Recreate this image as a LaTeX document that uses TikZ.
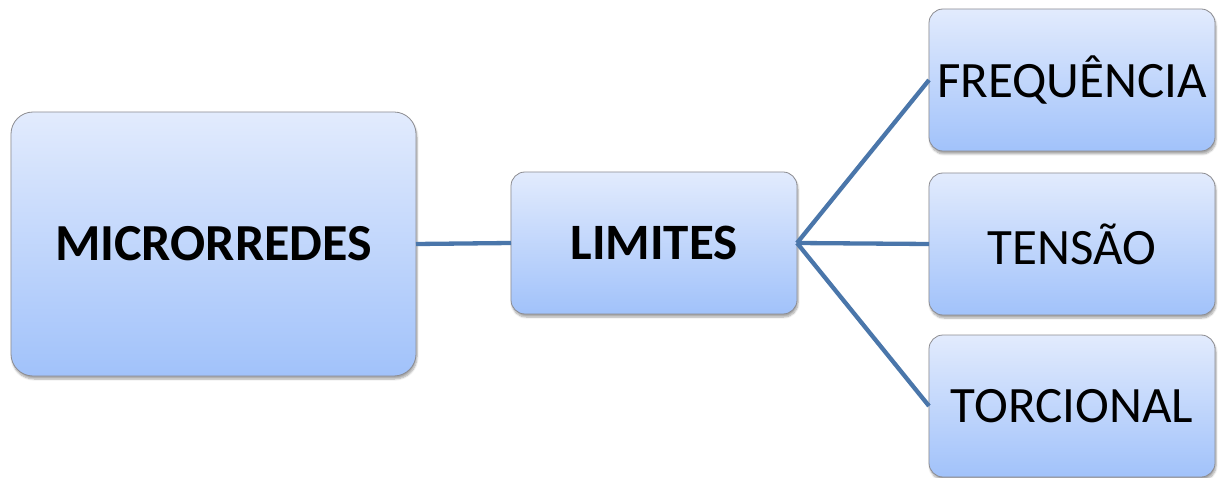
\documentclass[tikz,border=0pt]{standalone}
\usepackage{fontspec}
\setmainfont{Carlito}
\usetikzlibrary{shadows.blur}
\definecolor{topc}{RGB}{226,235,253}
\definecolor{botc}{RGB}{161,194,250}
\definecolor{linec}{RGB}{74,118,170}
\definecolor{bordc}{RGB}{140,140,145}
\tikzset{
  box/.style={draw=bordc, line width=0.8pt, rounded corners=#1, top color=topc, bottom color=botc,
    blur shadow={shadow xshift=1pt, shadow yshift=-3pt, shadow blur steps=6, shadow opacity=35},
    inner sep=0pt, outer sep=0pt, align=center},
  conn/.style={draw=linec, line width=4.3pt}
}
\begin{document}
\begin{tikzpicture}[x=1pt,y=1pt]
\useasboundingbox (0,0) rectangle (1218,-478);
\node[box=22pt, minimum width=405pt, minimum height=264pt, font=\fontsize{52}{60}\selectfont\bfseries] (micro) at (213.5,-244) {MICRORREDES};
\node[box=14pt, minimum width=286pt, minimum height=142pt, font=\fontsize{51}{60}\selectfont\bfseries] (lim) at (654,-243) {LIMITES};
\node[box=14pt, minimum width=286pt, minimum height=142pt, font=\fontsize{51}{60}\selectfont] (freq) at (1072,-80) {FREQUÊNCIA};
\node[box=14pt, minimum width=286pt, minimum height=142pt, font=\fontsize{51}{60}\selectfont] (tens) at (1072,-244) {TENSÃO};
\node[box=14pt, minimum width=286pt, minimum height=142pt, font=\fontsize{51}{60}\selectfont] (torc) at (1072,-406) {TORCIONAL};
\draw[conn] (micro.east) -- (lim.west);
\draw[conn] (lim.east) -- (freq.west);
\draw[conn] (lim.east) -- (tens.west);
\draw[conn] (lim.east) -- (torc.west);
\end{tikzpicture}
\end{document}
